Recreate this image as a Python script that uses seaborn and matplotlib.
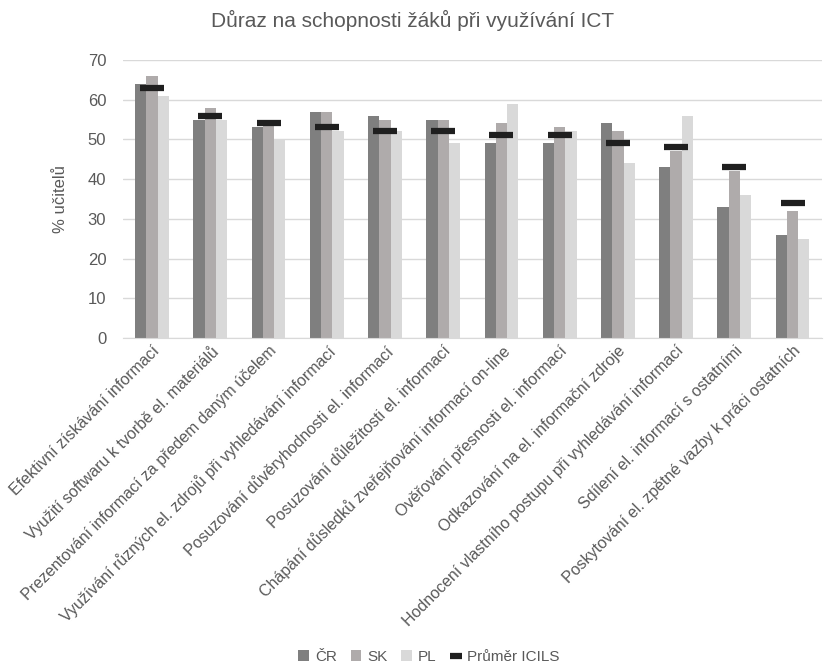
import matplotlib
matplotlib.use('Agg')
import matplotlib.pyplot as plt
import seaborn as sns
import pandas as pd

# data
kategorie = [
    'Efektivní získávání informací',
    'Využití softwaru k tvorbě el. materiálů',
    'Prezentování informací za předem daným účelem',
    'Využívání různých el. zdrojů při vyhledávání informací',
    'Posuzování důvěryhodnosti el. informací',
    'Posuzování důležitosti el. informací',
    'Chápání důsledků zveřejňování informací on-line',
    'Ověřování přesnosti el. informací',
    'Odkazování na el. informační zdroje',
    'Hodnocení vlastního postupu při vyhledávání informací',
    'Sdílení el. informací s ostatními',
    'Poskytování el. zpětné vazby k práci ostatních',
]
cr = [64, 55, 53, 57, 56, 55, 49, 49, 54, 43, 33, 26]
sk = [66, 58, 55, 57, 55, 55, 54, 53, 52, 47, 42, 32]
pl = [61, 55, 50, 52, 52, 49, 59, 52, 44, 56, 36, 25]
prumer = [63, 56, 54, 53, 52, 52, 51, 51, 49, 48, 43, 34]
zeme = ['ČR', 'SK', 'PL']

df = pd.DataFrame({'kategorie': kategorie * 3,
                   'zeme': [z for z in zeme for _ in kategorie],
                   'hodnota': cr + sk + pl})

sns.set_style('white')
plt.rcParams['font.family'] = ['Liberation Sans', 'DejaVu Sans']
seda = '#595959'

fig = plt.figure(figsize=(8.25, 6.66), dpi=100)
ax = fig.add_axes([0.149, 0.4925, 0.847, 0.4175])

sns.barplot(df, x='kategorie', y='hodnota', hue='zeme', width=0.58,
            palette=['#7f7f7f', '#afabab', '#d9d9d9'], saturation=1, linewidth=0, ax=ax)
sns.pointplot(x=kategorie, y=prumer, color='#1f1f1f', markers='_', linestyle='none',
              markersize=17, markeredgewidth=4.5, errorbar=None, label='Průměr ICILS', ax=ax)

ax.set_ylim(0, 70)
ax.set_yticks(range(0, 71, 10))
ax.set_xlim(-0.5, len(kategorie) - 0.5)
ax.grid(axis='y', color='#d9d9d9', linewidth=1)
ax.set_axisbelow(True)
for s in ['top', 'right', 'left']:
    ax.spines[s].set_visible(False)
ax.spines['bottom'].set_color('#d9d9d9')
ax.tick_params(axis='both', length=0, colors=seda, labelsize=12)
ax.tick_params(axis='y', pad=12)
ax.set_xticks(range(len(kategorie)))
ax.set_xticklabels(kategorie, rotation=45, ha='right', rotation_mode='anchor', fontsize=11.5)
ax.set_xlabel('')
ax.set_ylabel('% učitelů', color=seda, fontsize=12, labelpad=14)
fig.suptitle('Důraz na schopnosti žáků při využívání ICT', color=seda, fontsize=15, y=0.985)

h, l = ax.get_legend_handles_labels()
ax.legend(h, l, loc='lower center', bbox_to_anchor=(0.52, -0.013), bbox_transform=fig.transFigure,
          ncol=4, frameon=False, fontsize=11, handlelength=0.7, handleheight=0.7,
          handletextpad=0.4, columnspacing=0.9, labelcolor=seda, markerscale=0.55,
          borderpad=0.2)

fig.savefig('out.png', dpi=100)
